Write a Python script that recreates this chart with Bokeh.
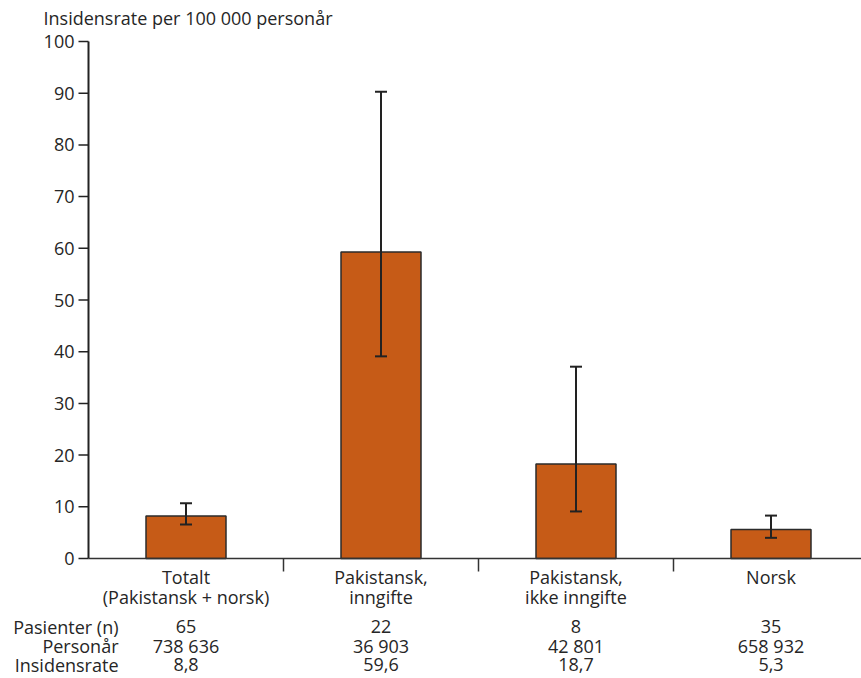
from bokeh.plotting import figure
from bokeh.models import ColumnDataSource, Range1d, Whisker, TeeHead
from bokeh.core.properties import value
from bokeh.embed import file_html
from bokeh.resources import INLINE

# ---- data ----
cat_line1 = ["Totalt", "Pakistansk,", "Pakistansk,", "Norsk"]
cat_line2 = ["(Pakistansk + norsk)", "inngifte", "ikke inngifte", ""]
rate = [8.2, 59.3, 18.3, 5.6]
lower = [6.6, 39.1, 9.1, 4.0]
upper = [10.7, 90.3, 37.1, 8.3]
row_labels = ["Pasienter (n)", "Personår", "Insidensrate"]
pasienter = ["65", "22", "8", "35"]
personar = ["738 636", "36 903", "42 801", "658 932"]
insidensrate = ["8,8", "59,6", "18,7", "5,3"]
y_ticks = [0, 10, 20, 30, 40, 50, 60, 70, 80, 90, 100]
y_title = "Insidensrate per 100 000 personår"

FONT = "Open Sans"
TXT = "#262626"
FS = "18px"
AX = "#222222"

W, H = 861, 678
X0, Y0 = 88, 558          # pixel position of the axes origin
CAT_PX = 195.0             # pixel width of one category
UNIT_PX = (558 - 41) / 100.0


def dx(px):
    return px / CAT_PX


def dy(px):
    return px / UNIT_PX


n = len(rate)
xc = [i + 0.5 for i in range(n)]

p = figure(width=W, height=H, output_backend="svg", toolbar_location=None,
           x_range=Range1d(dx(-X0), dx(W - X0)), y_range=Range1d(dy(Y0 - H), dy(Y0)),
           x_axis_type=None, y_axis_type=None, min_border=0)
p.outline_line_color = None
p.grid.visible = False
p.background_fill_color = "white"
p.border_fill_color = "white"

# bars
src = ColumnDataSource(dict(x=xc, rate=rate, lower=lower, upper=upper))
p.vbar(x="x", top="rate", bottom=0, width=dx(80), source=src,
       fill_color="#C65B17", line_color="#2b2b2b", line_width=1.5)

wh = Whisker(base="x", lower="lower", upper="upper", source=src, level="overlay",
             line_color=AX, line_width=2,
             upper_head=TeeHead(size=12, line_color=AX, line_width=2),
             lower_head=TeeHead(size=12, line_color=AX, line_width=2))
p.add_layout(wh)

# y axis
p.segment(x0=[0], y0=[y_ticks[0]], x1=[0], y1=[y_ticks[-1]], line_color=AX, line_width=2)
p.segment(x0=[0] * len(y_ticks), y0=y_ticks, x1=[dx(-10)] * len(y_ticks), y1=y_ticks,
          line_color=AX, line_width=1.5)
p.text(x=[dx(-14)] * len(y_ticks), y=y_ticks, text=[str(t) for t in y_ticks],
       text_align="right", text_baseline="middle", text_font=value(FONT),
       text_font_size=FS, text_color=TXT)

# x axis
p.segment(x0=[0], y0=[0], x1=[dx(W - X0)], y1=[0], line_color="#333333", line_width=1.5)
seps = [i + 1 for i in range(n - 1)]
p.segment(x0=seps, y0=[0] * len(seps), x1=seps, y1=[dy(-13)] * len(seps),
          line_color="#333333", line_width=1.5)

# category labels and table
rows = [(cat_line1, 18), (cat_line2, 38), (pasienter, 68), (personar, 87), (insidensrate, 106)]
for texts, off in rows:
    p.text(x=xc, y=[dy(-off)] * n, text=texts, text_align="center",
           text_baseline="middle", text_font=value(FONT), text_font_size=FS,
           text_color=TXT)

p.text(x=[dx(30)] * 3, y=[dy(-68), dy(-87), dy(-106)], text=row_labels,
       text_align="right", text_baseline="middle", text_font=value(FONT),
       text_font_size=FS, text_color=TXT)

p.text(x=[dx(-45)], y=[dy(Y0 - 17)], text=[y_title], text_align="left",
       text_baseline="middle", text_font=value(FONT), text_font_size=FS,
       text_color=TXT)

open("out.html", "w").write(file_html(p, INLINE))
